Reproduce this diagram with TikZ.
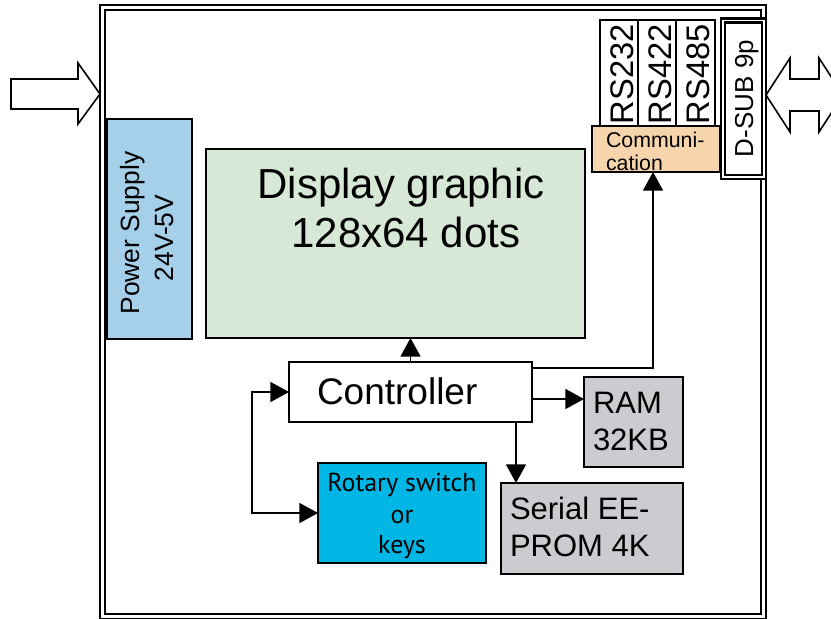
\documentclass[tikz,border=0pt]{standalone}
\usepackage{fontspec}
\setmainfont{Liberation Sans}
\newfontfamily\humfont{PT Sans}
\usetikzlibrary{arrows.meta,calc}
\definecolor{psblue}{HTML}{A6CFEA}
\definecolor{dispgreen}{HTML}{D7E9D6}
\definecolor{commpeach}{HTML}{F6D4AC}
\definecolor{memgray}{HTML}{CBCCD0}
\definecolor{keycyan}{HTML}{00B6E5}
\begin{document}
\begin{tikzpicture}[x=0.75pt,y=-0.75pt,
  box/.style={draw, line width=1.3pt, rectangle, inner sep=0pt, outer sep=0pt},
  txt/.style={inner sep=0pt, outer sep=0pt},
  arr/.style={line width=1.2pt, -{Triangle[width=15pt,length=14pt]}},
  biarr/.style={line width=1.2pt, {Triangle[width=15pt,length=14pt]}-{Triangle[width=15pt,length=14pt]}},
  blockarrow/.style={draw, line width=1.2pt, fill=white, line join=miter}]
\useasboundingbox (0,0) rectangle (831,618);
% outer frame
\draw[line width=1.8pt, double=white, double distance=1.9pt] (102.5,7.5) rectangle (763.5,616.5);
% block arrows
\draw[blockarrow] (11,79) -- (78,79) -- (78,63) -- (100,94) -- (78,124) -- (78,109) -- (11,109) -- cycle;
\draw[blockarrow] (766,95) -- (790,58) -- (790,79) -- (819,79) -- (819,58) -- (843,95) -- (819,132) -- (819,111) -- (790,111) -- (790,132) -- cycle;
% D-SUB
\node[draw, line width=1.6pt, double=white, double distance=1.4pt, fill=white, minimum width=30.75pt, minimum height=117.4pt, inner sep=0pt] (dsub) at (743.5,98.75) {};
\node[txt, rotate=90, anchor=base west, font=\fontsize{19.5}{22}\selectfont] (dsubt) at (753,157) {D-SUB 9p};
% RS boxes
\node[box, fill=white, minimum width=28.5pt, minimum height=79.5pt] (rs232) at (619,73) {};
\node[box, fill=white, minimum width=28.5pt, minimum height=79.5pt] (rs422) at (657,73) {};
\node[box, fill=white, minimum width=29.25pt, minimum height=79.5pt] (rs485) at (695.5,73) {};
\node[txt, rotate=90, anchor=base west, font=\fontsize{24.5}{27}\selectfont] (rs232t) at (633,124) {RS232};
\node[txt, rotate=90, anchor=base west, font=\fontsize{24.5}{27}\selectfont] (rs422t) at (671,124) {RS422};
\node[txt, rotate=90, anchor=base west, font=\fontsize{24.5}{27}\selectfont] (rs485t) at (709,124) {RS485};
% Communication
\node[box, fill=commpeach, minimum width=96pt, minimum height=34.5pt] (comm) at (656,149) {};
\node[txt, anchor=base west, font=\fontsize{16}{18}\selectfont] (comm1) at (606,147) {Communi-};
\node[txt, anchor=base west, font=\fontsize{16}{18}\selectfont] (comm2) at (606,170) {cation};
% Power supply
\node[box, fill=psblue, minimum width=63.75pt, minimum height=165pt] (power) at (149.5,229) {};
\node[txt, rotate=90, anchor=base, font=\fontsize{19.8}{24}\selectfont] (pw1) at (139,233) {Power Supply};
\node[txt, rotate=90, anchor=base, font=\fontsize{19.8}{24}\selectfont] (pw2) at (173,238) {24V-5V};
% Display
\node[box, fill=dispgreen, minimum width=284.25pt, minimum height=141.75pt] (disp) at (395.5,243.5) {};
\node[txt, anchor=base, font=\fontsize{31.5}{36}\selectfont] (disp1) at (401,198) {Display graphic};
\node[txt, anchor=base, font=\fontsize{31.5}{36}\selectfont] (disp2) at (406,247) {128x64 dots};
% Controller
\node[box, fill=white, minimum width=182.25pt, minimum height=45pt] (ctrl) at (410.5,392) {};
\node[txt, anchor=base west, font=\fontsize{27.75}{32}\selectfont] (ctrlt) at (317,404) {Controller};
% RAM
\node[box, fill=memgray, minimum width=74.25pt, minimum height=67.5pt] (ram) at (633.5,422) {};
\node[txt, anchor=base west, font=\fontsize{23.25}{27}\selectfont] (ram1) at (593,413) {RAM};
\node[txt, anchor=base west, font=\fontsize{23.25}{27}\selectfont] (ram2) at (593,450) {32KB};
% EEPROM
\node[box, fill=memgray, minimum width=136.5pt, minimum height=68.25pt] (eep) at (592,528.5) {};
\node[txt, anchor=base west, font=\fontsize{23.25}{27}\selectfont] (eep1) at (510,519) {Serial EE-};
\node[txt, anchor=base west, font=\fontsize{23.25}{27}\selectfont] (eep2) at (510,556) {PROM 4K};
% Rotary
\node[box, line width=1.7pt, fill=keycyan, minimum width=126pt, minimum height=75pt] (rot) at (402,513) {};
\node[txt, anchor=base, font=\humfont\fontsize{19.5}{23}\selectfont] (rot1) at (402,491) {Rotary switch};
\node[txt, anchor=base, font=\humfont\fontsize{19.5}{23}\selectfont] (rot2) at (402,523) {or};
\node[txt, anchor=base, font=\humfont\fontsize{19.5}{23}\selectfont] (rot3) at (402,553) {keys};
% connectors
\draw[arr] (ctrl.north) -- (ctrl.north |- disp.south);
\coordinate (ccomm) at ($(ctrl.north east)+(0,6)$);
\draw[arr] (ccomm) -| ($(comm.south)+(-3,0)$);
\coordinate (cram) at ($(ctrl.north east)+(0,37)$);
\draw[arr] (cram) -- (cram -| ram.west);
\coordinate (ceep) at ($(ctrl.south west)+(227,0)$);
\draw[arr] (ceep) -- (ceep |- eep.north);
\coordinate (bend) at ($(ctrl.west)+(-37,0)$);
\draw[biarr] (ctrl.west) -- (bend) |- (rot.west);
\end{tikzpicture}
\end{document}
